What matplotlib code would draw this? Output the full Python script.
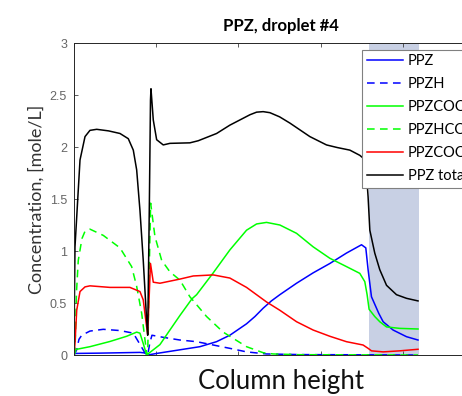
import matplotlib
matplotlib.use("Agg")
import matplotlib.pyplot as plt

# column position (tick units) and concentration [mole/L]
x_total = [0.0, 0.006, 0.012, 0.073, 0.134, 0.194, 0.276, 0.420, 0.559, 0.660, 0.721, 0.762,
           0.802, 0.842, 0.883, 0.896, 0.917, 0.930, 0.936, 0.964, 1.005, 1.085, 1.166,
           1.409, 1.510, 1.734, 1.895, 2.139, 2.220, 2.300, 2.382, 2.500, 2.625, 2.868,
           3.070, 3.200, 3.354, 3.475, 3.536, 3.560, 3.576, 3.597, 3.657, 3.718, 3.800,
           3.921, 4.043, 4.183]
y_total = [0.10, 0.60, 1.04, 1.875, 2.10, 2.16, 2.17, 2.155, 2.13, 2.08, 1.97, 1.78,
           1.39, 0.91, 0.34, 0.19, 1.50, 2.45, 2.56, 2.26, 2.07, 2.02, 2.035,
           2.04, 2.06, 2.13, 2.21, 2.31, 2.335, 2.34, 2.33, 2.29, 2.23, 2.10,
           2.02, 1.995, 1.97, 1.92, 1.88, 1.70, 1.52, 1.20, 0.98, 0.82, 0.67,
           0.58, 0.545, 0.52]

x_ppz = [0.0, 0.012, 0.316, 0.802, 0.860, 0.896, 1.005, 1.288, 1.531, 1.733, 1.895,
         2.098, 2.200, 2.300, 2.400, 2.503, 2.706, 2.908, 3.111, 3.313, 3.496, 3.548,
         3.576, 3.617, 3.706, 3.759, 3.880, 4.043, 4.183]
y_ppz = [0.0, 0.015, 0.018, 0.025, 0.02, 0.0, 0.015, 0.05, 0.08, 0.128, 0.19,
         0.30, 0.37, 0.45, 0.52, 0.58, 0.69, 0.79, 0.88, 0.98, 1.06, 1.03,
         0.82, 0.56, 0.40, 0.32, 0.24, 0.176, 0.144]

x_ppzh = [0.0, 0.033, 0.060, 0.094, 0.194, 0.356, 0.559, 0.721, 0.781, 0.863, 0.896,
          0.923, 0.948, 1.085, 1.288, 1.491, 1.693, 1.895, 2.098, 2.341, 2.746, 4.183]
y_ppzh = [0.0, 0.05, 0.15, 0.19, 0.23, 0.247, 0.235, 0.21, 0.13, 0.02, 0.0,
          0.12, 0.19, 0.17, 0.144, 0.128, 0.096, 0.064, 0.03, 0.01, 0.004, 0.0]

x_coo = [0.0, 0.012, 0.033, 0.194, 0.437, 0.640, 0.762, 0.802, 0.842, 0.883, 0.964,
         1.045, 1.166, 1.288, 1.434, 1.491, 1.693, 1.895, 2.098, 2.220, 2.341, 2.503,
         2.706, 2.908, 3.111, 3.313, 3.475, 3.536, 3.564, 3.588, 3.657, 3.718, 3.800,
         3.961, 4.183]
y_coo = [0.0, 0.04, 0.055, 0.08, 0.13, 0.18, 0.22, 0.21, 0.11, 0.0, 0.05,
         0.10, 0.24, 0.38, 0.54, 0.58, 0.79, 1.01, 1.20, 1.26, 1.275, 1.25,
         1.17, 1.04, 0.93, 0.85, 0.785, 0.705, 0.58, 0.44, 0.37, 0.32, 0.27,
         0.256, 0.25]

x_hcoo = [0.0, 0.012, 0.030, 0.052, 0.097, 0.134, 0.194, 0.356, 0.559, 0.701, 0.762,
          0.823, 0.883, 0.896, 0.917, 0.932, 0.984, 1.066, 1.166, 1.288, 1.409, 1.612,
          1.814, 2.098, 2.300, 2.422, 2.746, 4.183]
y_hcoo = [0.0, 0.02, 0.60, 0.91, 1.12, 1.19, 1.21, 1.15, 1.03, 0.85, 0.66,
          0.40, 0.02, 0.0, 0.90, 1.46, 1.14, 0.91, 0.80, 0.72, 0.56, 0.37,
          0.22, 0.08, 0.022, 0.01, 0.003, 0.0]

x_coo2 = [0.0, 0.012, 0.033, 0.073, 0.134, 0.194, 0.437, 0.680, 0.802, 0.842, 0.883,
          0.896, 0.930, 0.964, 1.045, 1.288, 1.450, 1.693, 1.895, 2.098, 2.341, 2.503,
          2.706, 2.908, 3.111, 3.313, 3.515, 3.576, 3.617, 3.759, 3.961, 4.183]
y_coo2 = [0.0, 0.11, 0.43, 0.61, 0.655, 0.665, 0.65, 0.65, 0.61, 0.53, 0.27,
          0.20, 0.88, 0.70, 0.69, 0.73, 0.76, 0.77, 0.74, 0.65, 0.51, 0.43,
          0.32, 0.24, 0.18, 0.128, 0.096, 0.064, 0.04, 0.03, 0.04, 0.055]

shade_x = (3.59, 4.19)
y_ticks = [0, 0.5, 1, 1.5, 2, 2.5, 3]
y_tick_labels = ["0", "0.5", "1", "1.5", "2", "2.5", "3"]
x_ticks = [0, 1, 2, 3, 4, 5]

series = [
    (x_ppz, y_ppz, "PPZ", "#0000ff", "-"),
    (x_ppzh, y_ppzh, "PPZH", "#0000ff", "--"),
    (x_coo, y_coo, "PPZCOO-", "#00ff00", "-"),
    (x_hcoo, y_hcoo, "PPZHCOO", "#00ff00", "--"),
    (x_coo2, y_coo2, "PPZCOO2-", "#ff0000", "-"),
    (x_total, y_total, "PPZ total", "#000000", "-"),
]

fig = plt.figure(figsize=(4.62, 3.96), dpi=100)
ax = fig.add_axes([74 / 462, 41 / 396, 414.5 / 462, 312 / 396])

# shaded band at the top of the column
ax.axvspan(*shade_x, color="#c8d0e4", lw=0, zorder=0)

for xs, ys, lab, col, ls in series:
    line, = ax.plot(xs, ys, color=col, ls=ls, lw=1.1, label=lab)
    if ls == "--":
        line.set_dashes((5, 3.5))

ax.set_xlim(0, 5.04)
ax.set_ylim(0, 3)
ax.set_xticks(x_ticks)
ax.set_xticklabels([])
ax.set_yticks(y_ticks)
ax.set_yticklabels(y_tick_labels, fontfamily="Liberation Sans", fontsize=9, color="#666666")
ax.tick_params(direction="in", length=3, width=0.6, color="#404040", top=True, right=True, pad=5)
for s in ax.spines.values():
    s.set_color("#262626")
    s.set_linewidth(0.7)

ax.set_title("PPZ, droplet #4", fontfamily="Lato", fontweight="bold", fontsize=12, pad=9)
ax.set_xlabel("Column height", fontfamily="Lato", fontsize=18.5, color="#111111", labelpad=5)
ax.set_ylabel("Concentration, [mole/L]", fontfamily="Lato", fontsize=13, color="#333333", labelpad=4)

# legend runs past the right edge, like the reference
leg = ax.legend(loc="upper left", bbox_to_anchor=(362.3 / 462, 346.3 / 396),
                bbox_transform=fig.transFigure, borderaxespad=0, fancybox=False,
                framealpha=1, edgecolor="#808080", prop={"family": "Lato", "size": 10.5},
                handlelength=2.5, handletextpad=0.3, labelspacing=0.62, borderpad=0.3)
leg.get_frame().set_linewidth(0.8)

fig.savefig("out.png", dpi=100)
